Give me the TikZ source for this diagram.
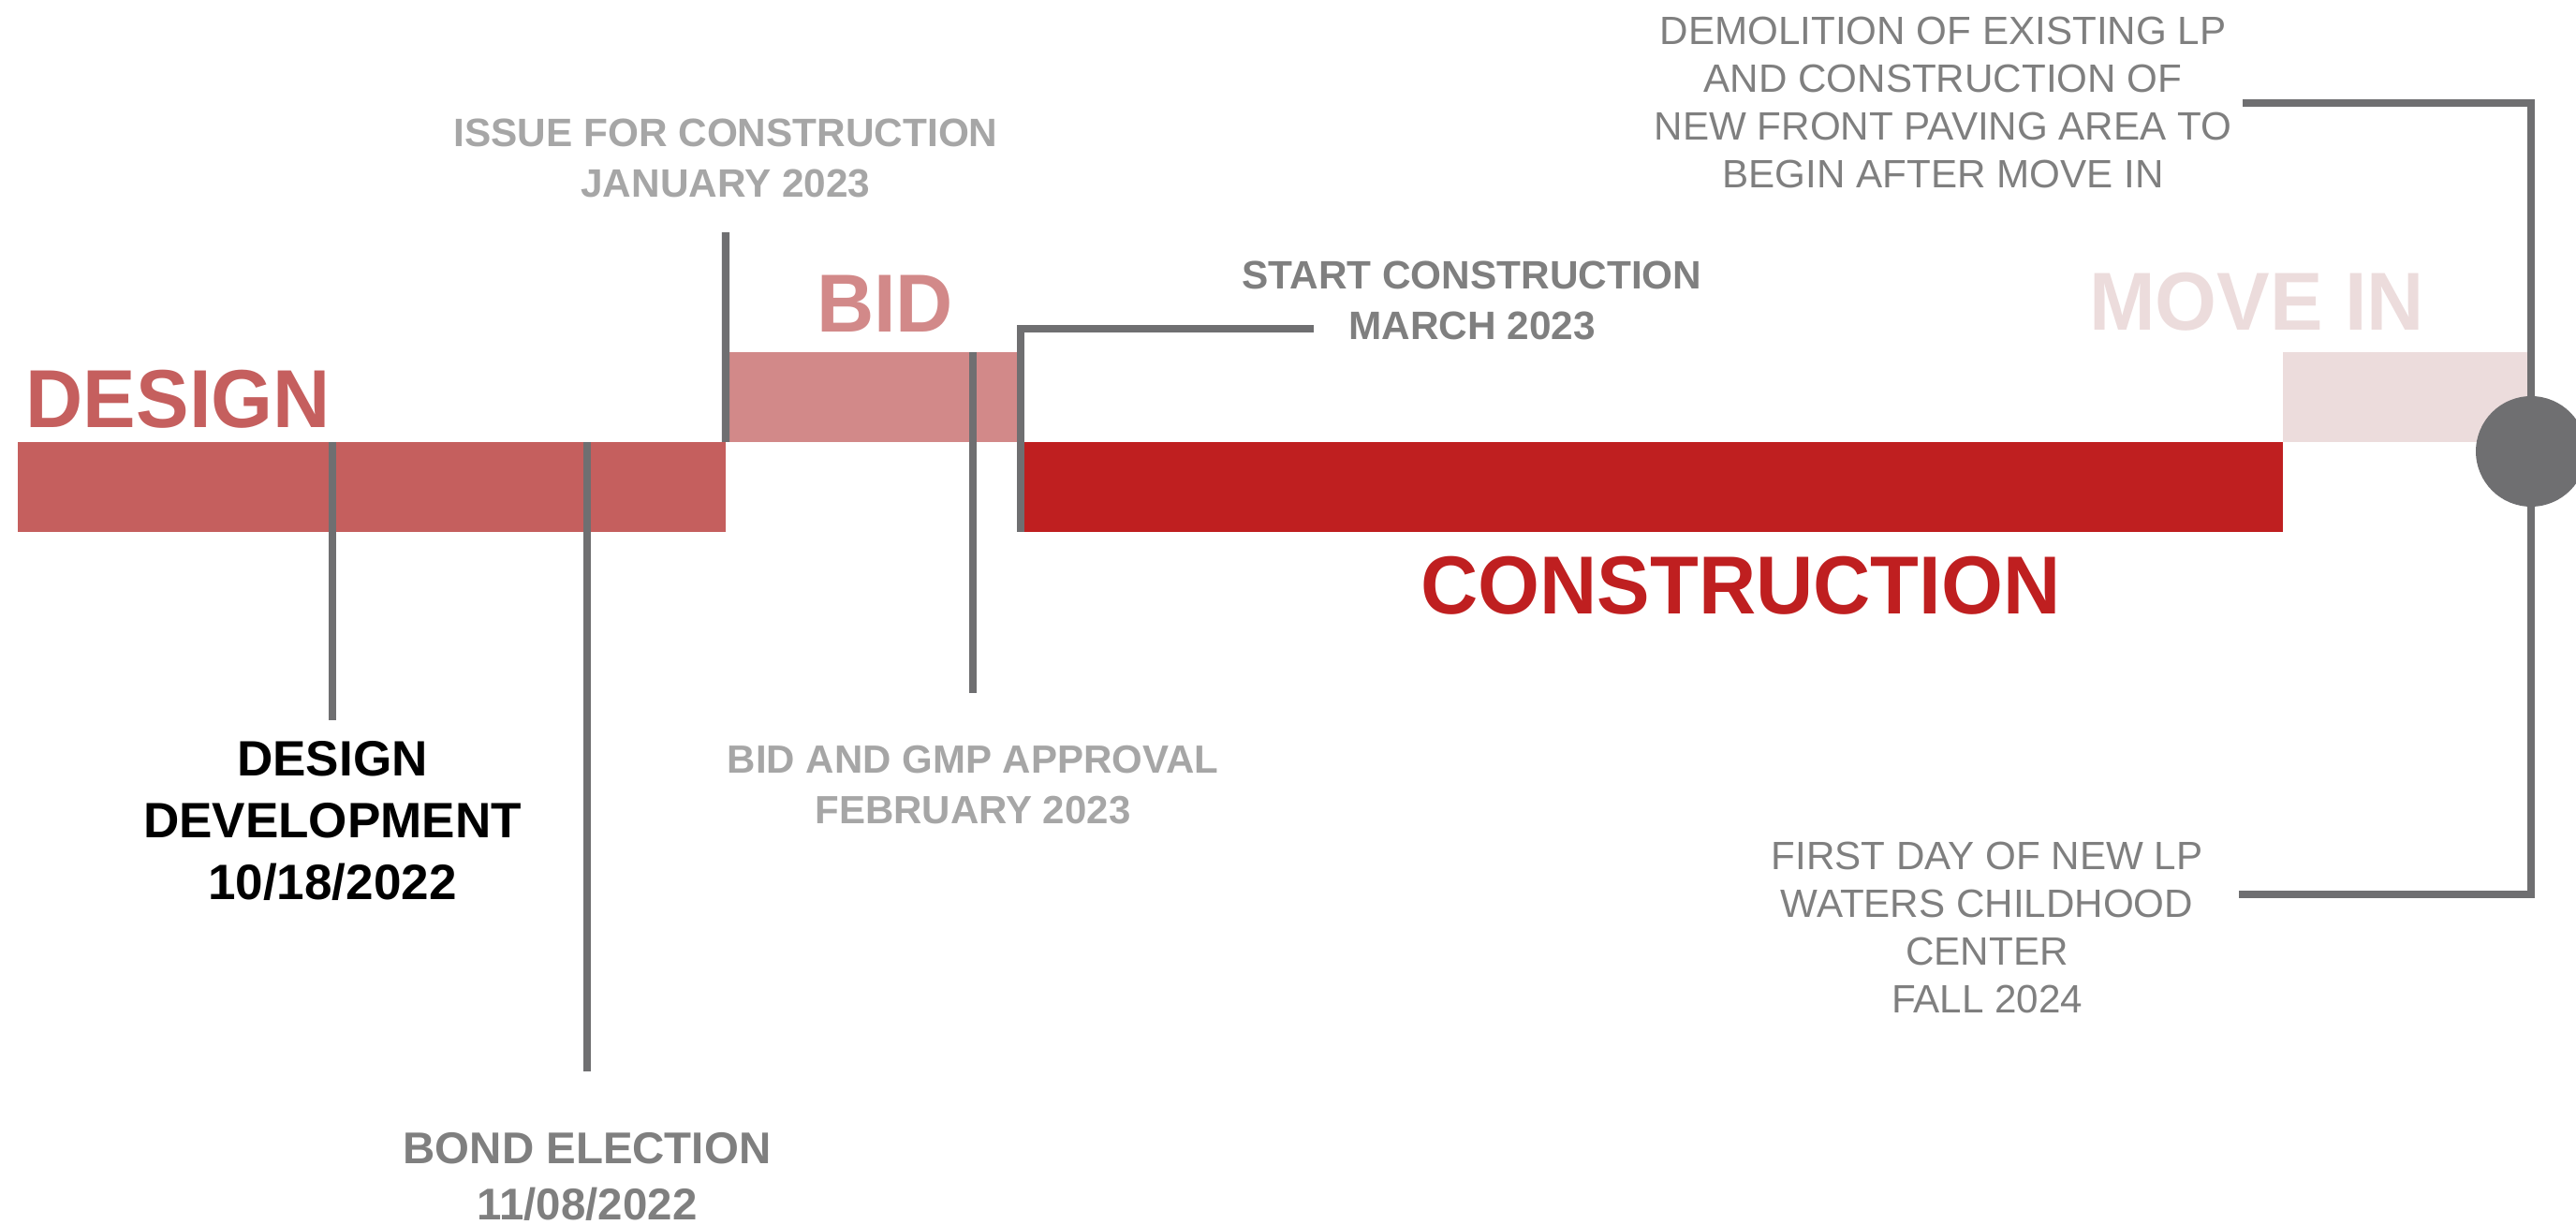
\documentclass[tikz,border=0pt]{standalone}
\usepackage{fontspec}
\setmainfont{Liberation Sans}
\newfontfamily\phasefont[FakeStretch=0.965]{Liberation Sans}
\usetikzlibrary{positioning,calc}
\usepackage{xcolor}
\definecolor{designred}{HTML}{C55F5E}
\definecolor{bidred}{HTML}{D28989}
\definecolor{buildred}{HTML}{BF1F20}
\definecolor{moveinpink}{HTML}{ECDCDC}
\definecolor{linegray}{HTML}{6F6F71}
\definecolor{litegray}{HTML}{A6A6A6}
\definecolor{midgray}{HTML}{7F7F7F}

\begin{document}
\begin{tikzpicture}[
    bar/.style ={
        rectangle,
        inner sep=0pt,
        outer sep=0pt,
        minimum height=0.96cm,
        anchor=south west
    },
    tick/.style ={
        draw=linegray,
        line width=2.3pt
    },
    phase/.style ={
        inner sep=0pt,
        anchor=north,
        font=\phasefont\bfseries\fontsize{25}{30}\selectfont
    },
    mile/.style ={
        inner sep=0pt,
        anchor=north,
        align=center,
        font=\bfseries\fontsize{12.05}{15.3}\selectfont
    },
    note/.style ={
        inner sep=0pt,
        anchor=north,
        align=center,
        text=midgray,
        font=\fontsize{12}{14.5}\selectfont
    }
    ]
    \useasboundingbox (0,0) rectangle (27.51,13.08);

    \foreach \x/ \pos/ \barw/ \col in {{design/(0.19,7.40)/7.56cm/designred}, {bid/(7.75,8.36)/3.15cm/bidred},
                                       {constr/(10.90,7.40)/13.48cm/buildred}, {movein/(24.38,8.36)/2.65cm/moveinpink}}
        \node[bar, fill=\col, minimum width=\barw] (\x) at \pos {};

    % phase names
    \node[phase, anchor=north west, text=designred] (designlbl) at (0.27,9.14) {DESIGN};
    \node[phase, text=bidred] (bidlbl) at (9.45,10.15) {BID};
    \node[phase, text=moveinpink] (moveinlbl) at (24.10,10.18) {MOVE IN};
    \node[phase, text=buildred] (constrlbl) at (18.59,7.15) {CONSTRUCTION};

    % milestones
    \node[mile, text=litegray] (issue) at (7.75,11.82) {ISSUE FOR CONSTRUCTION\\JANUARY 2023};
    \node[mile, text=midgray] (start) at (15.72,10.30) {START CONSTRUCTION\\MARCH 2023};
    \node[mile, text=black, font=\bfseries\fontsize{15.1}{18.7}\selectfont] (dd) at (3.55,5.17) {DESIGN\\DEVELOPMENT\\10/18/2022};
    \node[mile, text=litegray, font=\bfseries\fontsize{11.95}{15.6}\selectfont] (gmp) at (10.39,5.13) {BID AND GMP APPROVAL\\FEBRUARY 2023};
    \node[mile, text=midgray, font=\bfseries\fontsize{13.5}{17}\selectfont] (bond) at (6.27,0.99) {BOND ELECTION\\11/08/2022};
    \node[note] (demo) at (20.75,12.91) {DEMOLITION OF EXISTING LP\\AND CONSTRUCTION OF\\NEW FRONT PAVING AREA TO\\BEGIN AFTER MOVE IN};
    \node[note] (first) at (21.22,4.10) {FIRST DAY OF NEW LP\\WATERS CHILDHOOD\\CENTER\\FALL 2024};

    \coordinate (startend) at (14.03,9.57);
    \coordinate (demoend) at (23.95,11.98);
    \coordinate (firstend) at (23.91,3.53);

    \draw[tick] (dd.north |- design.north) -- ([yshift=2.2mm]dd.north);
    \draw[tick] (bond.north |- design.north) -- ([yshift=6.5mm]bond.north);
    \draw[tick] (design.north east) -- ([yshift=-3.7mm]issue.south);
    \draw[tick] (gmp.north |- bid.north) -- ([yshift=5.5mm]gmp.north);
    \draw[tick] (constr.south west) |- (startend);

    \node[circle, fill=linegray, inner sep=0pt, minimum size=1.18cm] (dot) at (27.03,8.26) {};
    \draw[tick] (demoend) -| (dot.center) |- (firstend);
\end{tikzpicture}
\end{document}
